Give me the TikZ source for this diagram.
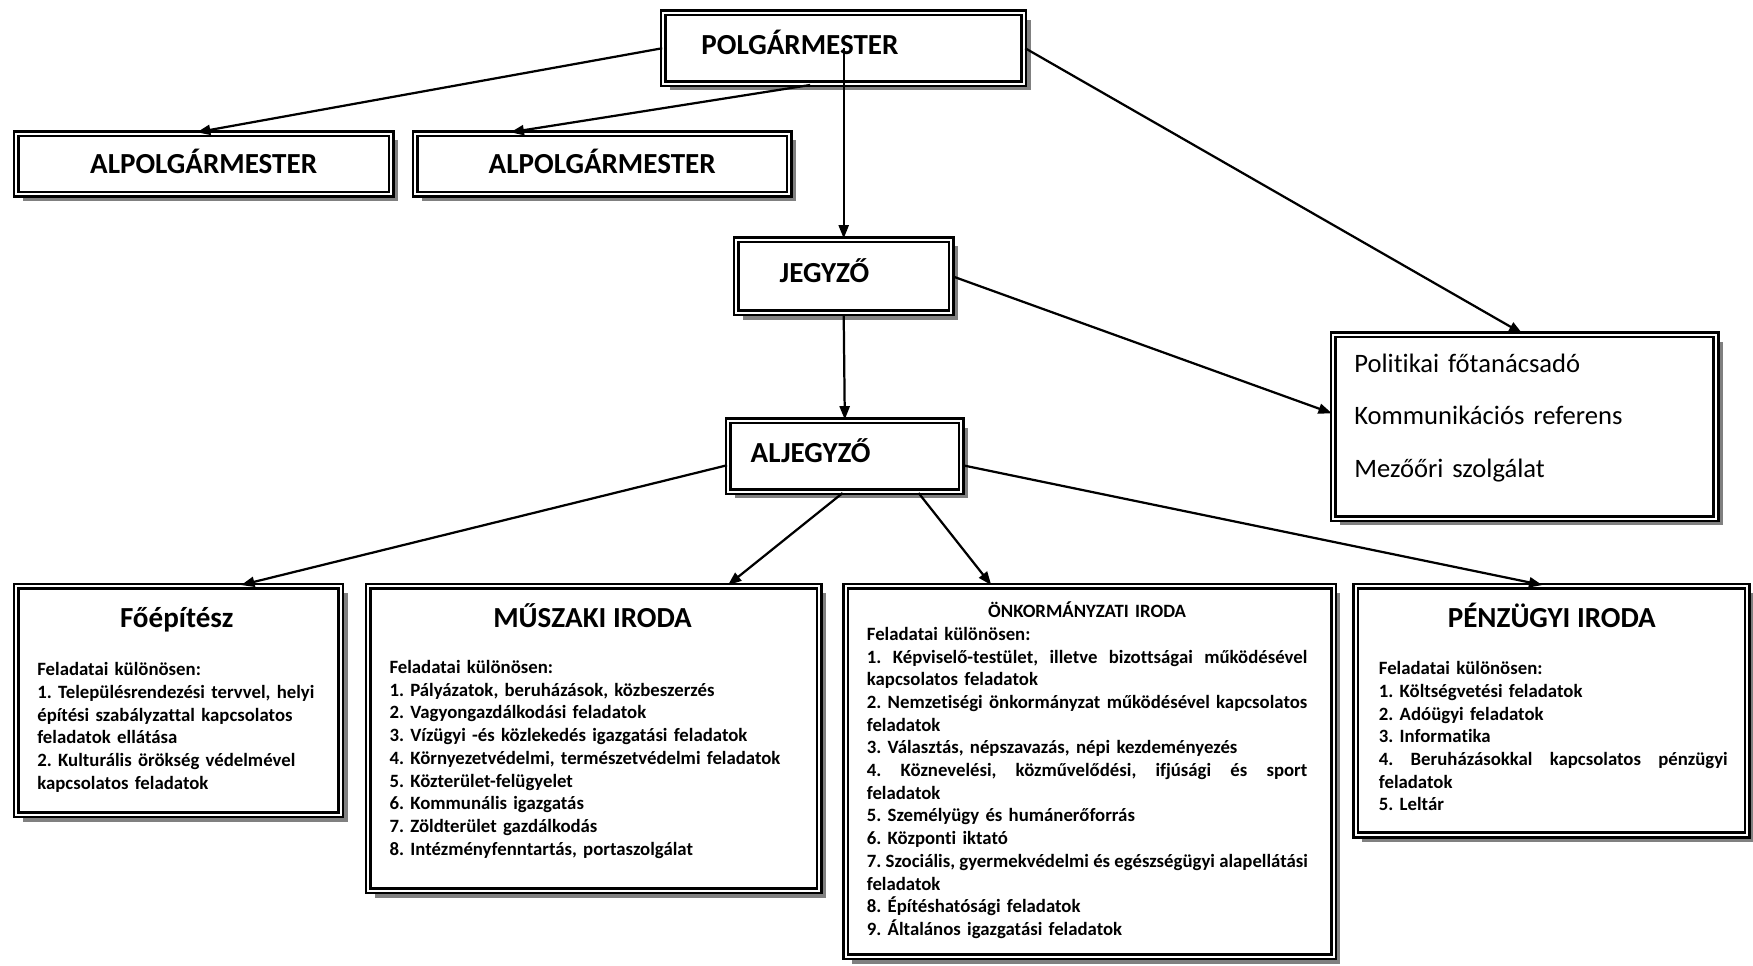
\documentclass[tikz,border=0pt]{standalone}
\usepackage{fontspec}
\setmainfont{Carlito}[Ligatures=NoCommon]
\usetikzlibrary{arrows.meta,shadows}
\tikzstyle{orgbox} = [draw, fill=white, rectangle, line width=1.15pt, double, double distance=0.9pt,
    drop shadow={shadow xshift=3pt, shadow yshift=-3pt, fill=gray, opacity=1},
    inner sep=0pt, anchor=north west]
\tikzstyle{heading} = [font=\fontsize{13}{15}\selectfont\bfseries, text height=8.4pt]
\tikzstyle{boxtext} = [font=\fontsize{8.4}{10.15}\selectfont\bfseries\frenchspacing, inner sep=0pt, align=left, anchor=base west]
\tikzstyle{stafftext} = [font=\fontsize{11.9}{23.5}\selectfont, inner sep=0pt, align=left, anchor=base west]
\tikzstyle{link} = [->, line width=1pt]
\newcommand{\spreadline}[1]{\makebox[\linewidth][s]{\spaceskip=\fontdimen2\font plus 1fil\relax #1}}

\begin{document}
\begin{tikzpicture}[x=0.5pt, y=-0.5pt, >={Triangle[length=6pt,width=4.5pt]}]
    \useasboundingbox (0,0) rectangle (1568,864);
    % We start with the leaders
    \node [orgbox, heading, text width=161.2pt, minimum height=31.7pt, align=left, text depth=3pt] (polg) at (592.3,10.3) {\hspace*{17pt}POLGÁRMESTER};
    \node [orgbox, heading, minimum width=167.7pt, minimum height=27.2pt, text depth=0pt] (alp1) at (13.3,118.3) {ALPOLGÁRMESTER};
    \node [orgbox, heading, minimum width=167.2pt, minimum height=27.2pt, text depth=0pt] (alp2) at (370.3,118.3) {ALPOLGÁRMESTER};
    \node [orgbox, heading, text width=96.2pt, minimum height=32.7pt, align=left, text depth=3pt] (jegyzo) at (657.3,213.3) {\hspace*{19.5pt}JEGYZŐ};
    \node [orgbox, heading, text width=104.2pt, minimum height=31.7pt, align=left, text depth=3pt] (aljegyzo) at (650.3,375.3) {\hspace*{10pt}ALJEGYZŐ};
    % Staff box on the right
    \node [orgbox, minimum width=171.2pt, minimum height=82.2pt] (staff) at (1191.3,298.3) {};
    \node [stafftext, text width=150pt] (stafflist) at (1211,333) {Politikai főtanácsadó\\ Kommunikációs referens\\ Mezőőri szolgálat};
    % The offices
    \node [orgbox, minimum width=145.2pt, minimum height=102.2pt] (foep) at (13.3,523.3) {};
    \node [orgbox, minimum width=201.7pt, minimum height=136.2pt] (musz) at (328.3,523.3) {};
    \node [orgbox, minimum width=218.2pt, minimum height=165.7pt] (onk) at (755.3,523.3) {};
    \node [orgbox, minimum width=175.2pt, minimum height=111.2pt] (penz) at (1211.3,523.3) {};
    \node [heading, anchor=base] (foep-title) at (158,561) {Főépítész};
    \node [heading, anchor=base] (musz-title) at (530,561) {MŰSZAKI IRODA};
    \node [heading, anchor=base] (penz-title) at (1388,561) {PÉNZÜGYI IRODA};
    \node [boxtext, text width=130pt] (foep-list) at (33,604.5) {Feladatai különösen:\\
        1. Településrendezési tervvel, helyi\\
        építési szabályzattal kapcsolatos\\
        feladatok ellátása\\
        2. Kulturális örökség védelmével\\
        kapcsolatos feladatok};
    \node [boxtext, text width=190pt] (musz-list) at (348,602.5) {Feladatai különösen:\\
        1. Pályázatok, beruházások, közbeszerzés\\
        2. Vagyongazdálkodási feladatok\\
        3. Vízügyi -és közlekedés igazgatási feladatok\\
        4. Környezetvédelmi, természetvédelmi feladatok\\
        5. Közterület-felügyelet\\
        6. Kommunális igazgatás\\
        7. Zöldterület gazdálkodás\\
        8. Intézményfenntartás, portaszolgálat};
    \node [boxtext, text width=197pt] (onk-list) at (775,552.5) {\makebox[\linewidth][c]{ÖNKORMÁNYZATI IRODA}\\
        Feladatai különösen:\\
        \spreadline{1. Képviselő-testület, illetve bizottságai működésével}\\
        kapcsolatos feladatok\\
        \spreadline{2. Nemzetiségi önkormányzat működésével kapcsolatos}\\
        feladatok\\
        3. Választás, népszavazás, népi kezdeményezés\\
        \spreadline{4. Köznevelési, közművelődési, ifjúsági és sport}\\
        feladatok\\
        5. Személyügy és humánerőforrás\\
        6. Központi iktató\\
        \spreadline{7. Szociális, gyermekvédelmi és egészségügyi alapellátási}\\
        feladatok\\
        8. Építéshatósági feladatok\\
        9. Általános igazgatási feladatok};
    \node [boxtext, text width=156pt] (penz-list) at (1233,603.5) {Feladatai különösen:\\
        1. Költségvetési feladatok\\
        2. Adóügyi feladatok\\
        3. Informatika\\
        \spreadline{4. Beruházásokkal kapcsolatos pénzügyi}\\
        feladatok\\
        5. Leltár};
    % Connectors
    \draw [link] (polg.west) -- ([xshift=-3pt]alp1.north);
    \draw [link] ([xshift=-15pt]polg.south) -- ([xshift=-41pt]alp2.north);
    \draw [link] (polg.center) -- (jegyzo.north);
    \draw [link] (polg.east) -- ([xshift=-1pt]staff.north);
    \draw [link] (jegyzo.east) -- ([yshift=6pt]staff.west);
    \draw [link] (jegyzo.south) -- (aljegyzo.north);
    \draw [link] ([yshift=-4pt]aljegyzo.west) -- ([xshift=28pt]foep.north);
    \draw [link] ([xshift=-1pt]aljegyzo.south) -- ([xshift=60pt]musz.north);
    \draw [link] ([xshift=33pt]aljegyzo.south) -- ([xshift=-44pt]onk.north);
    \draw [link] ([yshift=-4pt]aljegyzo.east) -- ([xshift=-4pt]penz.north);
\end{tikzpicture}
\end{document}
